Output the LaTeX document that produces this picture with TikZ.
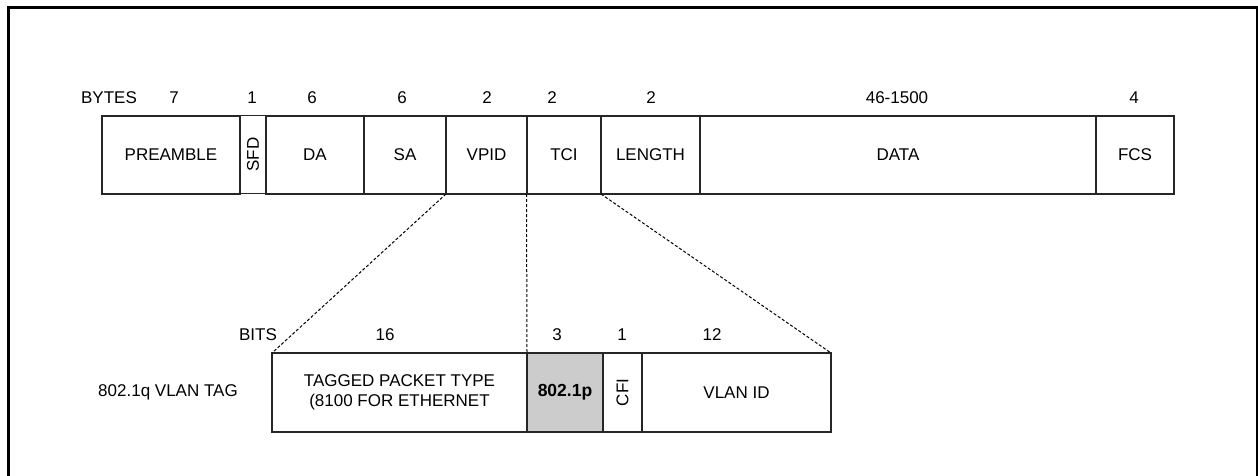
\documentclass[tikz,border=0pt]{standalone}
\usepackage{fontspec}
\setmainfont{Liberation Sans}
\begin{document}
\begin{tikzpicture}[x=1pt,y=-1pt,
  field/.style={draw=black!85,line width=1.5pt,inner sep=0pt,outer sep=0pt,anchor=center,font=\fontsize{17}{20}\selectfont,align=center},
  lbl/.style={inner sep=0pt,font=\fontsize{17}{20}\selectfont},
  zoomline/.style={line width=1pt,dash pattern=on 3pt off 2pt}]
\useasboundingbox (0,0) rectangle (1258,476);
\draw[line width=3pt] (8,478) -- (8,8) -- (1257,8) -- (1257,478);
% top row (y 116..194)
\node[field,minimum width=138,minimum height=78] (pre) at (171,155) {PREAMBLE};
\node[field,minimum width=26,minimum height=78,line width=1pt] (sfd) at (253,154.5) {\rotatebox{90}{SFD}};
\node[field,minimum width=98,minimum height=78] (da) at (315,155) {DA};
\node[field,minimum width=82,minimum height=78] (sa) at (405,155) {SA};
\node[field,minimum width=80,minimum height=78] (vpid) at (486.5,155) {VPID};
\node[field,minimum width=74,minimum height=78] (tci) at (564,155) {TCI};
\node[field,minimum width=99,minimum height=78] (len) at (650.5,155) {LENGTH};
\node[field,minimum width=396,minimum height=78] (data) at (898,155) {DATA};
\node[field,minimum width=78,minimum height=78] (fcs) at (1135,155) {FCS};
% byte labels
\node[lbl] (bytes) at (109,98) {BYTES};
\node[lbl] (b7) at (174,98) {7};
\node[lbl] (b1) at (252,98) {1};
\node[lbl] (b6a) at (312,98) {6};
\node[lbl] (b6b) at (402,98) {6};
\node[lbl] (b2a) at (487,98) {2};
\node[lbl] (b2b) at (552,98) {2};
\node[lbl] (b2c) at (651,98) {2};
\node[lbl] (b46) at (897,98) {46-1500};
\node[lbl] (b4) at (1134,98) {4};
% bottom row (y 353..432)
\node[field,minimum width=255,minimum height=79] (tpt) at (399.5,392.5) {TAGGED PACKET TYPE\\(8100 FOR ETHERNET};
\node[field,minimum width=76,minimum height=79,fill=gray!40!white,font=\fontsize{17.5}{20}\selectfont\bfseries] (p8021) at (565,392.5) {802.1p};
\node[field,minimum width=39,minimum height=79] (cfi) at (622.5,392.5) {\rotatebox{90}{CFI}};
\node[field,minimum width=189,minimum height=79] (vid) at (736.5,392.5) {VLAN ID};
% bit labels
\node[lbl] (bits) at (258,335) {BITS};
\node[lbl] (t16) at (385,335) {16};
\node[lbl] (t3) at (557,335) {3};
\node[lbl] (t1) at (622,335) {1};
\node[lbl] (t12) at (712,335) {12};
\node[lbl] (vlantag) at (168,392) {802.1q VLAN TAG};
% dashed connectors
\draw[zoomline] (sa.south east) -- (tpt.north west);
\draw[zoomline] (vpid.south east) -- (p8021.north west);
\draw[zoomline] (tci.south east) -- (vid.north east);
\end{tikzpicture}
\end{document}
